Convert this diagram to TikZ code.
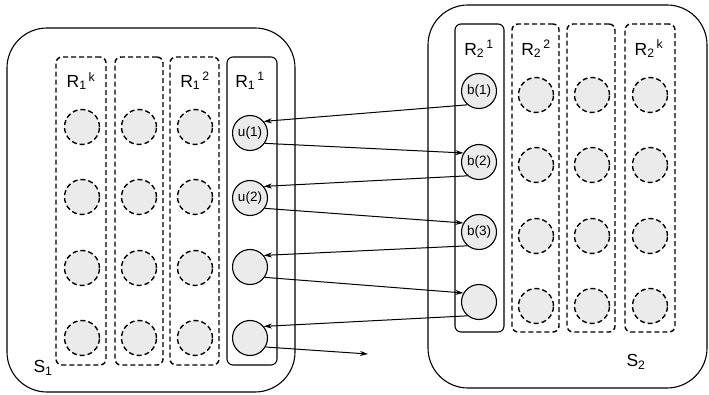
\documentclass[tikz,border=0pt]{standalone}
\usepackage{fontspec}
\setmainfont{Liberation Sans}
\usetikzlibrary{positioning,arrows.meta}

\begin{document}
\begin{tikzpicture}[
    x=1pt, y=-1pt,
    line width=1.1pt,
    font=\fontsize{13.5}{15}\selectfont,
    sysbox/.style={
        draw,
        rounded corners=40pt,
        inner sep=0pt
    },
    colbox/.style={
        draw,
        rounded corners=6pt,
        minimum height=308pt,
        inner sep=0pt
    },
    dashcol/.style={colbox, line width=1.4pt, dash pattern=on 5pt off 3pt},
    agent/.style={circle, draw, fill=gray!16, minimum size=35pt, inner sep=0pt},
    ghost/.style={agent, line width=1.4pt, dash pattern=on 5pt off 3pt},
    lab/.style={font=\fontsize{17.5}{19}\selectfont, inner sep=0pt},
    msg/.style={-{Stealth[length=8pt,width=5pt]}, line width=1pt}
]
\useasboundingbox (0,0) rectangle (709,395);

% System boxes
\node[sysbox, minimum width=288pt, minimum height=364pt] (S1) at (151,210) {};
\node[sysbox, minimum width=279pt, minimum height=383pt] (S2) at (567.5,196.5) {};
\node[lab] (s1lab) at (43,368) {S\textsubscript{1}};
\node[lab] (s2lab) at (636,362) {S\textsubscript{2}};

% Columns of S1
\node[dashcol, minimum width=50pt] (R1k) at (81,211) {};
\node[dashcol, minimum width=48pt] (R1m) at (139,211) {};
\node[dashcol, minimum width=49pt] (R12) at (194.5,211) {};
\node[colbox, minimum width=50pt] (R11) at (252,211) {};
\node[lab] (r1klab) at (81,81) {R\textsubscript{1}\textsuperscript{\,k}};
\node[lab] (r12lab) at (195,81) {R\textsubscript{1}\textsuperscript{\,2}};
\node[lab] (r11lab) at (250,81) {R\textsubscript{1}\textsuperscript{\,1}};

% Columns of S2
\node[colbox, minimum width=49pt] (R21) at (479.5,178) {};
\node[dashcol, minimum width=47pt] (R22) at (535.5,178) {};
\node[dashcol, minimum width=48pt] (R2m) at (591,178) {};
\node[dashcol, minimum width=50pt] (R2k) at (650,178) {};
\node[lab] (r21lab) at (479,49) {R\textsubscript{2}\textsuperscript{\,1}};
\node[lab] (r22lab) at (536,49) {R\textsubscript{2}\textsuperscript{\,2}};
\node[lab] (r2klab) at (649,49) {R\textsubscript{2}\textsuperscript{\,k}};

% Idle nodes of S1
\node[ghost] (ga1) at (82,127) {};
\node[ghost] (ga2) at (82,197) {};
\node[ghost] (ga3) at (82,268) {};
\node[ghost] (ga4) at (82,338) {};
\node[ghost] (gb1) at (139,127) {};
\node[ghost] (gb2) at (139,197) {};
\node[ghost] (gb3) at (139,268) {};
\node[ghost] (gb4) at (139,338) {};
\node[ghost] (gc1) at (195,127) {};
\node[ghost] (gc2) at (195,197) {};
\node[ghost] (gc3) at (195,268) {};
\node[ghost] (gc4) at (195,338) {};

% Idle nodes of S2
\node[ghost] (gd1) at (536,95) {};
\node[ghost] (gd2) at (536,165) {};
\node[ghost] (gd3) at (536,236) {};
\node[ghost] (gd4) at (536,306) {};
\node[ghost] (ge1) at (592,95) {};
\node[ghost] (ge2) at (592,165) {};
\node[ghost] (ge3) at (592,236) {};
\node[ghost] (ge4) at (592,306) {};
\node[ghost] (gf1) at (650,95) {};
\node[ghost] (gf2) at (650,165) {};
\node[ghost] (gf3) at (650,236) {};
\node[ghost] (gf4) at (650,306) {};

% Active nodes
\node[agent] (u1) at (250,133) {u(1)};
\node[agent] (u2) at (250,198) {u(2)};
\node[agent] (u3) at (250,267) {};
\node[agent] (u4) at (250,338) {};
\node[agent] (b1) at (479,91) {b(1)};
\node[agent] (b2) at (479,162) {b(2)};
\node[agent] (b3) at (479,232) {b(3)};
\node[agent] (b4) at (479,302) {};
\coordinate (out) at (368,354);

% Messages
\draw[msg] (b1.230) -- (u1.40);
\draw[msg] (u1.-35) -- (b2.150);
\draw[msg] (b2.230) -- (u2.40);
\draw[msg] (u2.-35) -- (b3.150);
\draw[msg] (b3.230) -- (u3.40);
\draw[msg] (u3.-35) -- (b4.150);
\draw[msg] (b4.230) -- (u4.40);
\draw[msg] (u4.-30) -- (out);

\end{tikzpicture}
\end{document}
